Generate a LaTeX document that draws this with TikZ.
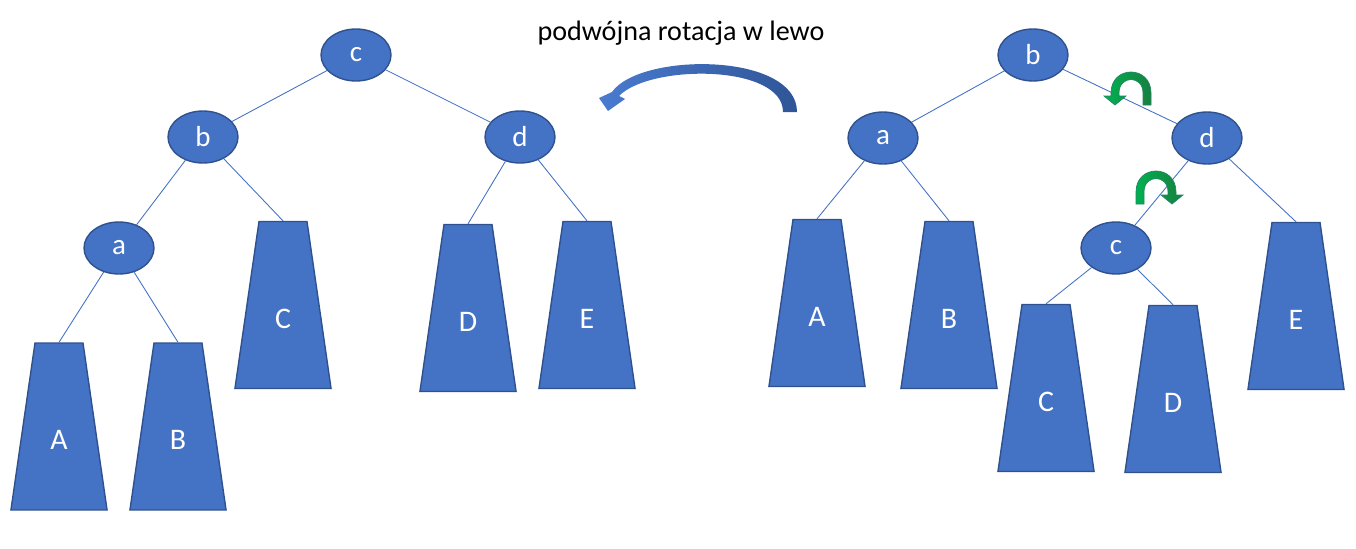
\documentclass[tikz,border=0pt]{standalone}
\usepackage{fontspec}
\setmainfont{Carlito}
\usetikzlibrary{shapes.geometric}
\definecolor{nodeblue}{HTML}{4472C4}
\definecolor{nodeedge}{HTML}{2F528F}
\definecolor{arrowlight}{HTML}{4A7BD0}
\definecolor{arrowdark}{HTML}{2F5597}
\definecolor{greenlight}{HTML}{00B050}
\definecolor{greendark}{HTML}{17803F}
\tikzset{
  tree node/.style={
    ellipse,
    draw=nodeedge,
    line width=0.8pt,
    fill=nodeblue,
    text=white,
    minimum width=1.4cm,
    minimum height=1.04cm,
    inner sep=0pt,
    font=\fontsize{16.5}{16.5}\selectfont,
  },
  subtree/.style={
    trapezium,
    trapezium left angle=81.8,
    trapezium right angle=81.8,
    draw=nodeedge,
    line width=0.8pt,
    fill=nodeblue,
    inner xsep=0.48cm,
    inner ysep=1.67cm,
    minimum size=0pt,
    label={[text=white, yshift=-0.27cm, font=\fontsize{17}{17}\selectfont]center:#1},
  },
  tree edge/.style={draw=nodeblue, line width=0.5pt},
  green turn/.pic={
    \shade[left color=greenlight, right color=greendark, draw=nodeedge!70!green, line width=0.4pt]
      (20,0) -- (20,-12) .. controls (20,-40) and (-20,-40) .. (-20,-12) -- (-20,-9)
      -- (-27,-9) -- (-16,0) -- (-5,-9) -- (-12,-9) -- (-12,-12)
      .. controls (-12,-30) and (12,-30) .. (12,-12) -- (12,0) -- cycle;
  },
}
\begin{document}
\begin{tikzpicture}[x=0.02cm, y=-0.02cm]
        \useasboundingbox (0,0) rectangle (1356,548);

        % tree before the rotation
        \node[tree node] (lc) at (356, 55) {c};
        \node[tree node] (lb) at (203,137) {b};
        \node[tree node] (ld) at (520,137) {d};
        \node[tree node] (la) at (119,248) {a};

        \node[subtree=A] (lA) at ( 59,426.5) {};
        \node[subtree=B] (lB) at (178,426.5) {};
        \node[subtree=C] (lC) at (283,305) {};
        \node[subtree=D] (lD) at (468,308) {};
        \node[subtree=E] (lE) at (587,305) {};

        \draw[tree edge] (lc) -- (lb);
        \draw[tree edge] (lc) -- (ld);
        \draw[tree edge] (lb) -- (la);
        \draw[tree edge] (lb) -- (lC.top side);
        \draw[tree edge] (la) -- (lA.top side);
        \draw[tree edge] (la) -- (lB.top side);
        \draw[tree edge] (ld) -- (lD.top side);
        \draw[tree edge] (ld) -- (lE.top side);

        % tree after the rotation
        \node[tree node] (rb) at (1033, 55) {b};
        \node[tree node] (ra) at ( 883,138) {a};
        \node[tree node] (rd) at (1207,138) {d};
        \node[tree node] (rc) at (1116,248) {c};

        \node[subtree=A] (rA) at ( 817,303) {};
        \node[subtree=B] (rB) at ( 949,305) {};
        \node[subtree=C] (rC) at (1046,388) {};
        \node[subtree=D] (rD) at (1173,389) {};
        \node[subtree=E] (rE) at (1296,306) {};

        \draw[tree edge] (rb) -- (ra);
        \draw[tree edge] (rb) -- (rd);
        \draw[tree edge] (ra) -- (rA.top side);
        \draw[tree edge] (ra) -- (rB.top side);
        \draw[tree edge] (rd) -- (rc);
        \draw[tree edge] (rd) -- (rE.top side);
        \draw[tree edge] (rc) -- (rC.top side);
        \draw[tree edge] (rc) -- (rD.top side);

        % rotation marks
        \pic at (1131,105) {green turn};
        \pic[xscale=-1] at (1156,204) {green turn};

        % title and big arrow
        \node[font=\fontsize{16}{16}\selectfont] (title) at (681,33) {podwójna rotacja w lewo};
        \shade[left color=arrowlight, right color=arrowdark]
          (797,112) .. controls (797,52) and (640,52) .. (612,92) -- (599,98)
          -- (608,111) -- (625,99) -- (619,96)
          .. controls (650,64) and (783,64) .. (783,112) -- cycle;
      \end{tikzpicture}
\end{document}
